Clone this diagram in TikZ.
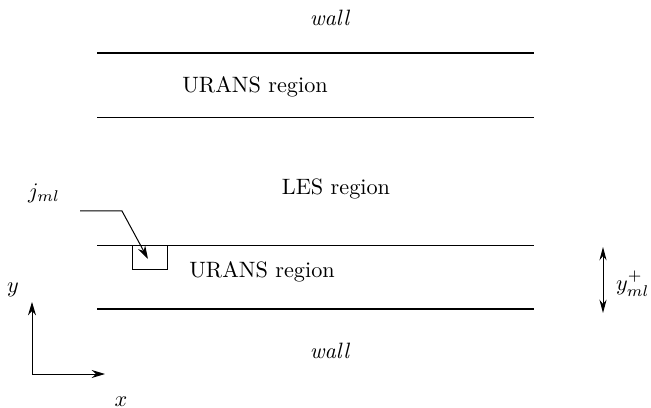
\documentclass[tikz,border=0pt]{standalone}
\usetikzlibrary{arrows.meta}
\begin{document}
\begin{tikzpicture}[x=0.45pt,y=-0.45pt,
  wallline/.style={line width=1.0pt},
  thinline/.style={line width=0.45pt},
  arr/.style={-{Stealth[length=6pt,width=3.6pt]},line width=0.45pt},
  lbl/.style={inner sep=0pt}]
\useasboundingbox (0,0) rectangle (651,408);
% lines
\coordinate (t1l) at (97,53);  \coordinate (t1r) at (534,53);
\coordinate (t2l) at (97,118); \coordinate (t2r) at (534,118);
\coordinate (b2l) at (97,246); \coordinate (b2r) at (534,246);
\coordinate (b1l) at (97,309); \coordinate (b1r) at (534,309);
\draw[wallline] (t1l) -- (t1r);
\draw[thinline] (t2l) -- (t2r);
\draw[thinline] (b2l) -- (b2r);
\draw[wallline] (b1l) -- (b1r);
% texts
\node[lbl] (walltop) at (330,18) {\textit{wall}};
\node[lbl] (uranstop) at (255,87) {URANS region};
\node[lbl] (les) at (336,189) {LES region};
\node[lbl] (uransbot) at (262,272) {URANS region};
\node[lbl] (wallbot) at (330,351) {\textit{wall}};
% j_ml box and arrow
\node[draw,thinline,minimum width=35*0.45pt,minimum height=23*0.45pt,inner sep=0pt] (box) at (149.5,257.5) {};
\node[lbl] (jml) at (44,193) {$j_{ml}$};
\coordinate (js) at (80,211);
\coordinate (jk) at (122,211);
\coordinate (jt) at (148,259);
\draw[arr] (js) -- (jk) -- (jt);
% y+ arrow
\coordinate (ya) at (603,247);
\coordinate (yb) at (603,313);
\draw[{Stealth[length=6pt,width=3.2pt]}-{Stealth[length=6pt,width=3.2pt]},line width=0.45pt] (ya) -- (yb);
\node[lbl,anchor=east] (yml) at (650,284) {$y^+_{ml}$};
% axes
\coordinate (o) at (32,374);
\coordinate (ytip) at (32,302);
\coordinate (xtip) at (105,374);
\draw[arr] (o) -- (ytip);
\draw[arr] (o) -- (xtip);
\node[lbl] (ylab) at (13,290) {$y$};
\node[lbl] (xlab) at (121,402) {$x$};
\end{tikzpicture}
\end{document}
